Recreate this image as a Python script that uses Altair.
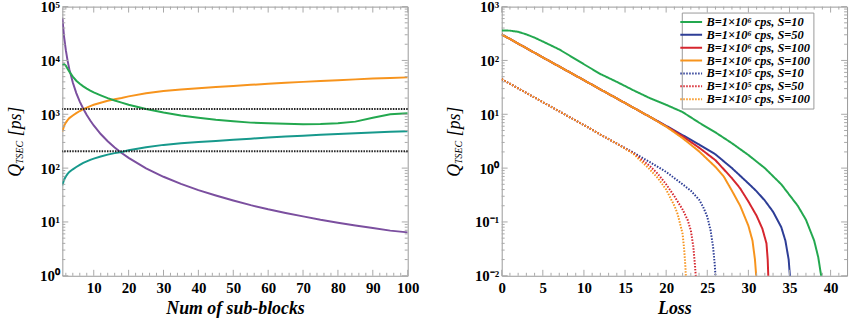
import json
import altair as alt
import pandas as pd

# ---------------- Left panel data ----------------
sub_blocks = [1, 1.5, 2, 2.5, 3, 4, 5, 6, 7, 8, 9, 10, 12, 14, 16, 18, 20, 25, 30, 35, 40,
              45, 50, 55, 60, 65, 70, 75, 80, 85, 90, 95, 100]
q_purple = [62000, 27500, 15500, 9900, 6900, 3900, 2480, 1720, 1265, 970, 765, 620, 430, 316, 242,
            191, 155, 99, 69, 51, 39, 31, 25, 20.5, 17.2, 14.7, 12.7, 11.0, 9.7, 8.6, 7.7, 6.9, 6.4]
q_orange = [480, 610, 700, 780, 850, 950, 1050, 1150, 1250, 1330, 1420, 1500, 1640, 1780, 1900,
            2000, 2150, 2450, 2700, 2900, 3050, 3200, 3350, 3520, 3700, 3850, 4000, 4150, 4300,
            4450, 4600, 4720, 4850]
q_teal = [48, 61, 70, 78, 85, 95, 105, 115, 125, 133, 142, 150, 164, 178, 190, 200, 215, 245, 270,
          290, 305, 320, 335, 352, 370, 385, 400, 415, 430, 445, 460, 472, 485]
q_green = [8200, 8500, 8000, 7000, 6200, 5000, 4200, 3700, 3300, 3000, 2750, 2550, 2250, 2000, 1800,
           1650, 1500, 1250, 1080, 950, 860, 790, 740, 700, 680, 665, 655, 660, 680, 730, 860, 1000, 1050]
thresholds = [1250, 205]

left_series = ["purple", "orange", "teal", "green"]
left_colors = ["#7b4f9f", "#f7941d", "#17998c", "#23a84f"]

# ---------------- Right panel data ----------------
loss_s1 = [0, 1, 2, 3, 4, 5, 6, 7, 8, 10, 12, 14, 16, 18, 20, 22, 24, 26, 28, 30, 32, 34, 36, 37,
           38, 38.5, 38.85, 38.9]
q_s1 = [360, 358, 340, 305, 265, 225, 190, 160, 130, 85, 56, 40, 28, 20, 15, 11, 7, 4.6, 2.9, 1.75,
        1.0, 0.5, 0.2, 0.11, 0.045, 0.022, 0.01, 0.007]
loss_s2 = [0, 5, 10, 12, 14, 16, 18, 20, 22, 24, 26, 28, 30, 31, 32, 33, 34, 34.5, 34.9, 35.05, 35.1]
q_s2 = [305, 114, 43, 29, 19.7, 13.3, 9.0, 6.1, 4.1, 2.75, 1.8, 1.0, 0.52, 0.37, 0.25, 0.155, 0.08,
        0.045, 0.02, 0.01, 0.007]
loss_s3 = [0, 5, 10, 12, 14, 16, 18, 20, 22, 24, 26, 28, 29, 30, 31, 31.7, 32.2, 32.35, 32.42, 32.45]
q_s3 = [305, 114, 43, 29, 19.7, 13.3, 9.0, 6.0, 3.9, 2.4, 1.4, 0.65, 0.42, 0.24, 0.13, 0.075, 0.04,
        0.02, 0.01, 0.006]
loss_s4 = [0, 5, 10, 12, 14, 16, 18, 20, 22, 24, 26, 27, 28, 29, 30, 30.5, 30.8, 30.95, 31.0]
q_s4 = [305, 114, 43, 29, 19.7, 13.3, 9.0, 5.9, 3.6, 2.05, 1.05, 0.7, 0.38, 0.2, 0.085, 0.045, 0.02,
        0.01, 0.006]
loss_s5 = [0, 5, 10, 12, 14, 16, 18, 20, 22, 23, 24, 24.5, 25, 25.4, 25.7, 25.9, 26.0, 26.05]
q_s5 = [45, 16.8, 6.3, 4.2, 2.85, 1.95, 1.3, 0.85, 0.5, 0.38, 0.26, 0.19, 0.125, 0.07, 0.035, 0.017,
        0.01, 0.006]
loss_s6 = [0, 5, 10, 12, 14, 16, 18, 19, 20, 21, 22, 22.6, 23, 23.3, 23.5, 23.6, 23.65]
q_s6 = [45, 16.8, 6.3, 4.2, 2.85, 1.9, 1.1, 0.78, 0.5, 0.3, 0.17, 0.11, 0.07, 0.035, 0.016, 0.01, 0.006]
loss_s7 = [0, 5, 10, 12, 14, 16, 18, 19, 20, 21, 21.4, 22, 22.2, 22.35, 22.42, 22.45]
q_s7 = [45, 16.8, 6.3, 4.2, 2.85, 1.85, 0.95, 0.65, 0.4, 0.2, 0.14, 0.06, 0.03, 0.014, 0.008, 0.005]

right_keys = ["s1", "s2", "s3", "s4", "s5", "s6", "s7"]
right_labels = ["B=1×10⁶ cps, S=10", "B=1×10⁶ cps, S=50", "B=1×10⁶ cps, S=100",
                "B=1×10⁶ cps, S=100", "B=1×10⁵ cps, S=10", "B=1×10⁵ cps, S=50",
                "B=1×10⁵ cps, S=100"]
right_colors = ["#23a84f", "#2d3d96", "#d6262e", "#f7941d", "#2d3d96", "#d6262e", "#f7941d"]
SOLID = [1, 0]
DOT = [1.5, 1.5]
right_dashes = [SOLID, SOLID, SOLID, SOLID, DOT, DOT, DOT]

left_xticks = [10, 20, 30, 40, 50, 60, 70, 80, 90, 100]
right_xticks = [0, 5, 10, 15, 20, 25, 30, 35, 40]
left_yticks = [1, 10, 100, 1000, 10000, 100000]
right_yticks = [0.01, 0.1, 1, 10, 100, 1000]

# ---------------- Build tables ----------------
left_df = pd.concat([
    pd.DataFrame({"x": sub_blocks, "q": vals, "series": name})
    for name, vals in zip(left_series, [q_purple, q_orange, q_teal, q_green])
], ignore_index=True)

right_df = pd.concat([
    pd.DataFrame({"x": lx, "q": qv, "curve": k})
    for k, lx, qv in zip(right_keys,
                         [loss_s1, loss_s2, loss_s3, loss_s4, loss_s5, loss_s6, loss_s7],
                         [q_s1, q_s2, q_s3, q_s4, q_s5, q_s6, q_s7])
], ignore_index=True)

W, H = 349, 272
FONT = "Liberation Serif"
TICK = "#a8a8a8"

sup_expr = ("'10' + (datum.value < 1 ? '⁻' : '') + "
            "['⁰','¹','²','³','⁴','⁵','⁶'][round(abs(log(datum.value)/LN10))]")


def y_axis(vals):
    return alt.Axis(values=vals, labelExpr=sup_expr, title=None, ticks=False, domain=False,
                    grid=False, labelFont=FONT, labelFontSize=15, labelFontWeight="bold",
                    labelColor="black", labelPadding=3)


def x_axis(vals, title):
    return alt.Axis(values=vals, title=title, ticks=False, domain=False, grid=False,
                    labelFont=FONT, labelFontSize=15, labelFontWeight="bold", labelColor="black",
                    labelPadding=5, labelFlush=False, titleFont=FONT, titleFontSize=18,
                    titleFontStyle="italic", titleFontWeight="bold", titleColor="black",
                    titlePadding=4)


def tick_layers(xs, ys, xax, yax, xmaj, xmin, ymaj, ymin):
    layers = []
    for vals, L in [(ymaj, 6), (ymin, 3)]:
        d = pd.DataFrame({"v": vals})
        layers.append(alt.Chart(d).mark_rule(color=TICK, strokeWidth=1).encode(
            y=alt.Y("v:Q", scale=ys, axis=yax), x=alt.value(0), x2=alt.value(L)))
        layers.append(alt.Chart(d).mark_rule(color=TICK, strokeWidth=1).encode(
            y=alt.Y("v:Q", scale=ys, axis=yax), x=alt.value(W), x2=alt.value(W - L)))
    for vals, L in [(xmaj, 6), (xmin, 3)]:
        d = pd.DataFrame({"v": vals})
        layers.append(alt.Chart(d).mark_rule(color=TICK, strokeWidth=1).encode(
            x=alt.X("v:Q", scale=xs, axis=xax), y=alt.value(H), y2=alt.value(H - L)))
        layers.append(alt.Chart(d).mark_rule(color=TICK, strokeWidth=1).encode(
            x=alt.X("v:Q", scale=xs, axis=xax), y=alt.value(0), y2=alt.value(L)))
    return layers


def title_layers():
    parts = [("Q", 18, -42, 172), ("TSEC", 10, -40, 159), ("[ps]", 18, -42, 131)]
    out = []
    for txt, size, px, py in parts:
        out.append(alt.Chart(pd.DataFrame({"t": [txt]})).mark_text(
            angle=270, align="left", baseline="alphabetic", font=FONT, fontSize=size,
            fontStyle="italic", color="black").encode(
            text="t:N", x=alt.value(px), y=alt.value(py)))
    return out


def decade_ticks(lo, hi):
    maj, mnr = [], []
    for e in range(lo, hi + 1):
        maj.append(10.0 ** e)
        if e < hi:
            for k in range(2, 10):
                mnr.append(k * 10.0 ** e)
    return maj, mnr


# ---------------- Left panel ----------------
xs_l = alt.Scale(domain=[1, 100], nice=False, zero=False)
ys_l = alt.Scale(type="log", domain=[1, 1e5], nice=False)
xax_l = x_axis(left_xticks, "Num of sub-blocks")
yax_l = y_axis(left_yticks)
ymaj_l, ymin_l = decade_ticks(0, 5)
xmin_l = [v for v in range(2, 100, 2) if v % 10 != 0]

left_lines = alt.Chart(left_df).mark_line(strokeWidth=2, clip=True).encode(
    x=alt.X("x:Q", scale=xs_l, axis=xax_l),
    y=alt.Y("q:Q", scale=ys_l, axis=yax_l),
    color=alt.Color("series:N", scale=alt.Scale(domain=left_series, range=left_colors), legend=None),
    order=alt.Order("x:Q"),
)
left_rules = alt.Chart(pd.DataFrame({"q": thresholds})).mark_rule(
    color="#222", strokeWidth=2, strokeDash=[1.5, 1.2]).encode(
    y=alt.Y("q:Q", scale=ys_l, axis=yax_l))

left = alt.layer(
    left_lines,
    *tick_layers(xs_l, ys_l, xax_l, yax_l, left_xticks, xmin_l, ymaj_l, ymin_l),
    left_rules, *title_layers()
).properties(width=W, height=H)

# ---------------- Right panel ----------------
xs_r = alt.Scale(domain=[0, 42], nice=False, zero=False)
ys_r = alt.Scale(type="log", domain=[0.01, 1000], nice=False)
xax_r = x_axis(right_xticks, "Loss")
yax_r = y_axis(right_yticks)
ymaj_r, ymin_r = decade_ticks(-2, 3)
xmin_r = [v for v in range(1, 42) if v % 5 != 0]

label_expr = f"{json.dumps(right_labels, ensure_ascii=False)}[indexof({json.dumps(right_keys)}, datum.label)]"
leg = alt.Legend(orient="none", legendX=182, legendY=6, title=None, labelExpr=label_expr,
                 labelFont=FONT, labelFontSize=12.5, labelFontWeight="bold", labelFontStyle="italic",
                 labelColor="black", symbolType="M-2,0H2", symbolSize=121, symbolStrokeWidth=2,
                 strokeColor="#999", fillColor="white", padding=3, rowPadding=0, labelOffset=9,
                 labelLimit=300)

right_lines = alt.Chart(right_df).mark_line(strokeWidth=2, clip=True).encode(
    x=alt.X("x:Q", scale=xs_r, axis=xax_r),
    y=alt.Y("q:Q", scale=ys_r, axis=yax_r),
    color=alt.Color("curve:N", scale=alt.Scale(domain=right_keys, range=right_colors), legend=leg),
    strokeDash=alt.StrokeDash("curve:N", scale=alt.Scale(domain=right_keys, range=right_dashes),
                              legend=leg),
    order=alt.Order("x:Q"),
)

right = alt.layer(
    right_lines,
    *tick_layers(xs_r, ys_r, xax_r, yax_r, right_xticks, xmin_r, ymaj_r, ymin_r),
    *title_layers()
).properties(width=W, height=H)

chart = alt.hconcat(left, right, spacing=26).resolve_scale(
    color="independent", strokeDash="independent"
).properties(
    padding={"left": 6, "top": -3, "right": 4, "bottom": 0},
    background="white",
).configure_view(stroke="#999", strokeWidth=1)

chart.save("out.html", embed_options={"renderer": "svg", "actions": False})
